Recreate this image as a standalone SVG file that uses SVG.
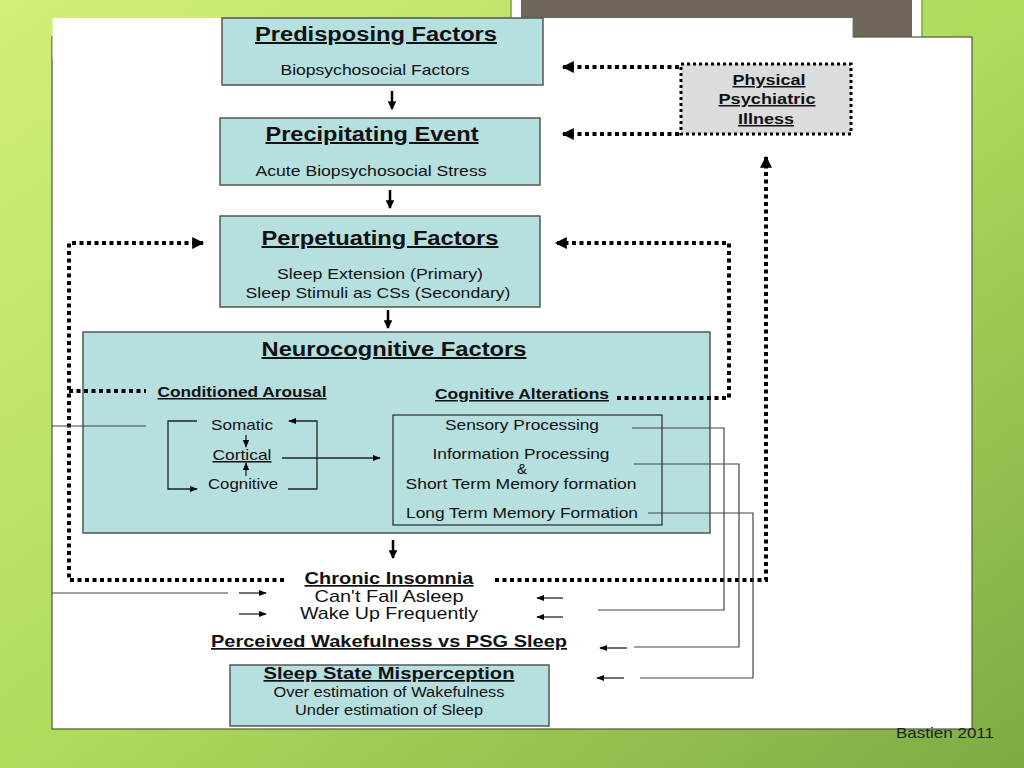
<svg xmlns="http://www.w3.org/2000/svg" width="1024" height="768" viewBox="0 0 1024 768">
<defs>
<linearGradient id="bg" x1="0" y1="0" x2="1" y2="1">
<stop offset="0" stop-color="#d2ef78"/>
<stop offset="0.5" stop-color="#b0dc5e"/>
<stop offset="1" stop-color="#7eab44"/>
</linearGradient>
<marker id="dh" viewBox="0 0 10 10" refX="9" refY="5" markerWidth="3.2" markerHeight="3" orient="auto" markerUnits="strokeWidth">
<path d="M0,0 L10,5 L0,10 z" fill="#000"/>
</marker>
<marker id="ta" viewBox="0 0 10 10" refX="9" refY="5" markerWidth="8" markerHeight="6" orient="auto" markerUnits="strokeWidth">
<path d="M0,1 L10,5 L0,9 z" fill="#000"/>
</marker>
<marker id="ka" viewBox="0 0 10 10" refX="9" refY="5" markerWidth="3.5" markerHeight="3.5" orient="auto" markerUnits="strokeWidth">
<path d="M0,0 L10,5 L0,10 z" fill="#000"/>
</marker>
</defs>
<style>
.box{fill:#b6dfe0;stroke:#555;stroke-width:1.5}
.t{font-family:"Liberation Sans",Arial,sans-serif;fill:#111;text-anchor:middle}
.h{font-weight:bold;font-size:20px;text-decoration:underline}
.s{font-size:15px}
.b15{font-weight:bold;font-size:15px;text-decoration:underline}
.b17{font-weight:bold;font-size:17px;text-decoration:underline}
.dot{fill:none;stroke:#000;stroke-width:4;stroke-dasharray:4 3.5}
.thin{fill:none;stroke:#222;stroke-width:1.3}
.thin2{fill:none;stroke:#444;stroke-width:1.2}
.down{stroke:#000;stroke-width:2.5;marker-end:url(#ka)}
</style>
<rect width="1024" height="768" fill="url(#bg)"/>
<!-- title box frame -->
<rect x="511" y="-10" width="411" height="86" fill="#fff" stroke="#7ea83e" stroke-width="1.5"/>
<rect x="521" y="-10" width="391" height="77" fill="#6e675a"/>
<!-- slide content -->
<rect x="52" y="37" width="920" height="692" fill="#fff" stroke="#4d5a3a" stroke-width="1.2"/>
<rect x="52.6" y="18" width="800" height="40" fill="#fff"/>
<text x="945" y="738" font-family="'Liberation Sans',sans-serif" font-size="15" fill="#222" text-anchor="middle" textLength="98" lengthAdjust="spacingAndGlyphs">Bastien 2011</text>

<g id="predisposing">
<rect class="box" x="222" y="18" width="321" height="67"/>
<text class="t h" x="376" y="41" textLength="242" lengthAdjust="spacingAndGlyphs">Predisposing Factors</text>
<text class="t s" x="375" y="75" textLength="189" lengthAdjust="spacingAndGlyphs">Biopsychosocial Factors</text>
</g>
<g id="precipitating">
<rect class="box" x="220" y="118" width="320" height="67"/>
<text class="t h" x="372" y="141" textLength="213" lengthAdjust="spacingAndGlyphs">Precipitating Event</text>
<text class="t s" x="371" y="176" textLength="231" lengthAdjust="spacingAndGlyphs">Acute Biopsychosocial Stress</text>
</g>
<g id="perpetuating">
<rect class="box" x="220" y="216" width="320" height="91"/>
<text class="t h" x="380" y="245" textLength="237" lengthAdjust="spacingAndGlyphs">Perpetuating Factors</text>
<text class="t s" x="380" y="279" textLength="206" lengthAdjust="spacingAndGlyphs">Sleep Extension (Primary)</text>
<text class="t s" x="378" y="298" textLength="265" lengthAdjust="spacingAndGlyphs">Sleep Stimuli as CSs (Secondary)</text>
</g>
<g id="neurocognitive">
<rect class="box" x="83" y="332" width="627" height="201"/>
<text class="t h" x="394" y="356" textLength="265" lengthAdjust="spacingAndGlyphs">Neurocognitive Factors</text>
<text class="t b15" x="242" y="397" textLength="169" lengthAdjust="spacingAndGlyphs">Conditioned Arousal</text>
<text class="t b15" x="522" y="399" textLength="174" lengthAdjust="spacingAndGlyphs">Cognitive Alterations</text>
<text class="t s" x="242" y="430" textLength="62" lengthAdjust="spacingAndGlyphs">Somatic</text>
<text class="t s" x="242" y="460" text-decoration="underline" textLength="59" lengthAdjust="spacingAndGlyphs">Cortical</text>
<text class="t s" x="243" y="489" textLength="70" lengthAdjust="spacingAndGlyphs">Cognitive</text>
</g>
<g id="cognitive-items">
<rect x="393" y="415" width="269" height="110" fill="none" stroke="#333" stroke-width="1.3"/>
<text class="t s" x="522" y="430" textLength="154" lengthAdjust="spacingAndGlyphs">Sensory Processing</text>
<text class="t s" x="521" y="459" textLength="177" lengthAdjust="spacingAndGlyphs">Information Processing</text>
<text class="t s" x="522" y="474">&amp;</text>
<text class="t s" x="521" y="489" textLength="231" lengthAdjust="spacingAndGlyphs">Short Term Memory formation</text>
<text class="t s" x="522" y="518" textLength="232" lengthAdjust="spacingAndGlyphs">Long Term Memory Formation</text>
</g>
<g id="physical">
<rect x="681" y="64" width="170" height="70" fill="#dcdcdc" stroke="#000" stroke-width="3" stroke-dasharray="3 3"/>
<text class="t b15" x="769" y="85" textLength="73" lengthAdjust="spacingAndGlyphs">Physical</text>
<text class="t b15" x="767" y="104" textLength="97" lengthAdjust="spacingAndGlyphs">Psychiatric</text>
<text class="t b15" x="766" y="124" textLength="56" lengthAdjust="spacingAndGlyphs">Illness</text>
</g>
<g id="chronic">
<text class="t b17" x="389" y="584" textLength="169" lengthAdjust="spacingAndGlyphs">Chronic Insomnia</text>
<text class="t" x="389" y="602" font-size="17" textLength="149" lengthAdjust="spacingAndGlyphs">Can't Fall Asleep</text>
<text class="t" x="389" y="619" font-size="17" textLength="178" lengthAdjust="spacingAndGlyphs">Wake Up Frequently</text>
</g>
<g id="perceived">
<text class="t b17" x="389" y="647" textLength="356" lengthAdjust="spacingAndGlyphs">Perceived Wakefulness vs PSG Sleep</text>
</g>
<g id="misperception">
<rect class="box" x="230" y="665" width="319" height="61"/>
<text class="t b17" x="389" y="679" textLength="251" lengthAdjust="spacingAndGlyphs">Sleep State Misperception</text>
<text class="t" x="389" y="697" font-size="14" textLength="231" lengthAdjust="spacingAndGlyphs">Over estimation of Wakefulness</text>
<text class="t" x="389" y="715" font-size="14" textLength="188" lengthAdjust="spacingAndGlyphs">Under estimation of Sleep</text>
</g>

<g id="connectors">
<!-- down arrows -->
<line class="down" x1="392" y1="91" x2="392" y2="109"/>
<line class="down" x1="390" y1="190" x2="390" y2="208"/>
<line class="down" x1="388" y1="310" x2="388" y2="328"/>
<line class="down" x1="393" y1="540" x2="393" y2="558"/>
<!-- physical illness -> boxes -->
<path class="dot" d="M679,67 H563" marker-end="url(#dh)"/>
<path class="dot" d="M679,134 H563" marker-end="url(#dh)"/>
<!-- right loop: chronic insomnia -> physical -->
<path class="dot" d="M495,580 H766 V157" marker-end="url(#dh)"/>
<!-- cognitive alterations -> perpetuating -->
<path class="dot" d="M617,398 H729 V243 H556" marker-end="url(#dh)"/>
<!-- left loop -->
<path class="dot" d="M284,580 H69 V243 H203" marker-end="url(#dh)"/>
<path class="dot" d="M69,391 H146"/>
<!-- thin lines from left edge -->
<line class="thin2" x1="52" y1="426" x2="146" y2="426"/>
<line class="thin2" x1="52" y1="593" x2="228" y2="593"/>
<!-- brackets -->
<path class="thin" d="M197,421 H168 V489 H197" marker-end="url(#ta)"/>
<path class="thin" d="M288,489 H317 V421 H289" marker-end="url(#ta)"/>
<line class="thin" x1="282" y1="458" x2="380" y2="458" marker-end="url(#ta)"/>
<line class="thin" x1="246" y1="435" x2="246" y2="447" marker-end="url(#ta)"/>
<line class="thin" x1="246" y1="476" x2="246" y2="463" marker-end="url(#ta)"/>
<!-- from cognitive alteration items -->
<path class="thin2" d="M632,428 H724 V610 H598"/>
<path class="thin2" d="M634,464 H739 V647 H634"/>
<path class="thin2" d="M648,513 H753 V678 H640"/>
<!-- small arrows -->
<line class="thin" x1="563" y1="598" x2="537" y2="598" marker-end="url(#ta)"/>
<line class="thin" x1="563" y1="617" x2="537" y2="617" marker-end="url(#ta)"/>
<line class="thin" x1="627" y1="648" x2="600" y2="648" marker-end="url(#ta)"/>
<line class="thin" x1="624" y1="678" x2="597" y2="678" marker-end="url(#ta)"/>
<line class="thin" x1="239" y1="593" x2="266" y2="593" marker-end="url(#ta)"/>
<line class="thin" x1="239" y1="614" x2="266" y2="614" marker-end="url(#ta)"/>
</g>
</svg>
